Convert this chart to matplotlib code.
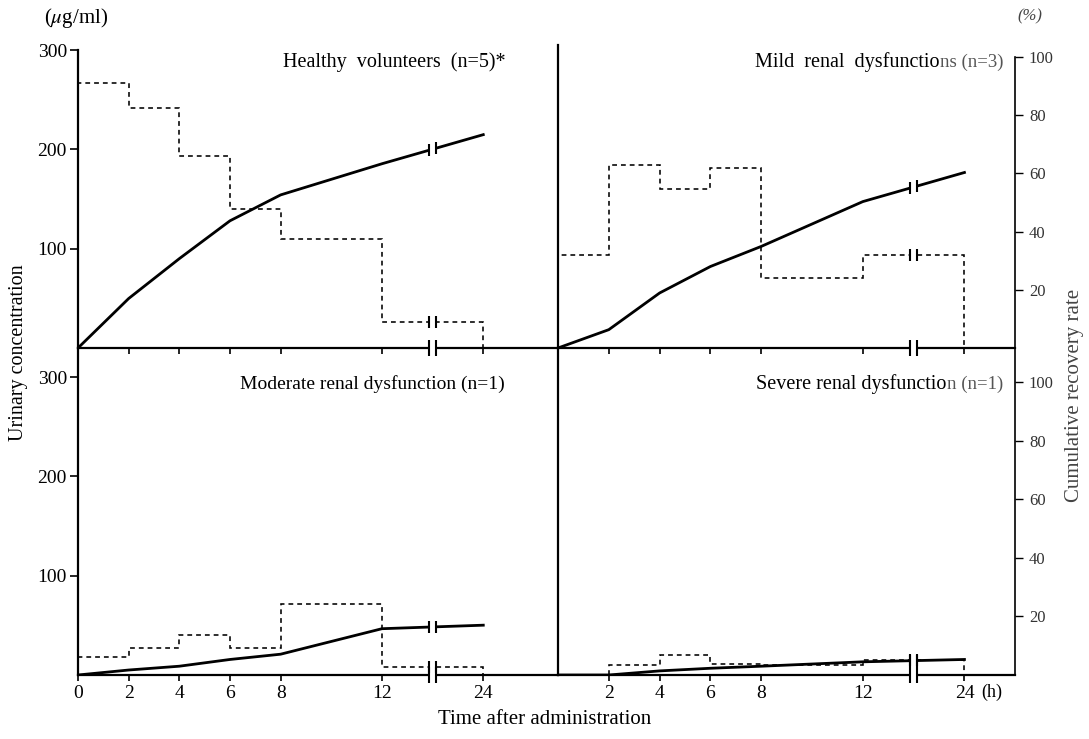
import numpy as np
import matplotlib.pyplot as plt

plt.rcParams['font.family'] = ['Liberation Serif', 'DejaVu Serif']
plt.rcParams['mathtext.fontset'] = 'stix'

# urine collection intervals (h)
edges = [0, 2, 4, 6, 8, 12, 24]
severe_edges = [2, 4, 6, 8, 12, 24]
# sampling times of the cumulative recovery curves (h)
times = [0, 2, 4, 6, 8, 12, 24]

# urinary concentration in each interval (ug/ml)
healthy_conc = [267, 242, 193, 140, 110, 26]
mild_conc = [94, 184, 160, 181, 70, 94]
moderate_conc = [18, 27, 40, 27, 71, 8]
severe_conc = [10, 20, 11, 10, 15]

# cumulative recovery rate (%)
healthy_rec = [0, 17.0, 30.7, 43.7, 52.6, 63.3, 73.3]
mild_rec = [0, 6.3, 18.9, 28.0, 34.9, 50.3, 60.3]
moderate_rec = [0, 1.7, 3.0, 5.3, 7.1, 15.8, 17.0]
severe_rec = [0, 0, 1.4, 2.3, 3.0, 4.5, 5.3]

title_main = ['Healthy  volunteers  (n=5)*', 'Mild  renal  dysfunctio',
              'Moderate renal dysfunction (n=1)', 'Severe renal dysfunctio']
title_tail = ['', 'ns (n=3)', '', 'n (n=1)']

left_ticks = [0, 2, 4, 6, 8, 12, 24]
right_ticks = [2, 4, 6, 8, 12, 24]
conc_ticks = [100, 200, 300]
rate_ticks = [20, 40, 60, 80, 100]

BREAK = 18   # 12-24 h drawn compressed, axis break sits here
GAP = 0.4


def fwd(h):
    h = np.asarray(h, dtype=float)
    return np.where(h <= 12, h, 12 + (h - 12) / 3)


def inv(p):
    p = np.asarray(p, dtype=float)
    return np.where(p <= 12, p, 12 + (p - 12) * 3)


W, H = 1089, 739
fig = plt.figure(figsize=(W / 100, H / 100), dpi=100)


def box(x0, x1, ytop, ybot):
    return [x0 / W, 1 - ybot / H, (x1 - x0) / W, (ybot - ytop) / H]


panels = [
    # rect, edges, conc, rec, conc_top, rate_top, xmax, left column?, bottom row?, title pos
    (box(78, 558, 45, 348), edges, healthy_conc, healthy_rec, 305.1, 104.1, 32.85, True, False, (0.890, 0.944)),
    (box(558, 1015, 45, 348), edges, mild_conc, mild_rec, 305.1, 104.1, 29.97, False, False, (0.974, 0.944)),
    (box(78, 558, 348, 675), edges, moderate_conc, moderate_rec, 329.3, 111.6, 32.85, True, True, (0.890, 0.890)),
    (box(558, 1015, 348, 675), severe_edges, severe_conc, severe_rec, 329.3, 111.6, 29.97, False, True, (0.974, 0.890)),
]

for i, (rect, e, conc, rec, ctop, rtop, xmax, is_left, is_bottom, tpos) in enumerate(panels):
    ax = fig.add_axes(rect)
    ax.patch.set_visible(False)
    ax.set_xscale('function', functions=(fwd, inv))
    tw = ax.twinx()

    # urinary concentration: dashed steps
    ax.stairs(conc, e, baseline=0, color='k', lw=1.15, linestyle=(0, (3, 2.5)))
    ax.axhline(0, color='k', lw=1.6, clip_on=False)
    # cumulative recovery: solid line
    tw.plot(times, rec, color='k', lw=2.0, solid_joinstyle='round')

    ax.set_xlim(0, xmax)
    ax.set_ylim(0, ctop)
    tw.set_ylim(0, rtop)

    # axis break
    tw.axvspan(BREAK - GAP, BREAK + GAP, ymin=-0.01, ymax=0.8, color='white', lw=0,
               zorder=2.2, clip_on=False)
    xb = [BREAK - GAP, BREAK + GAP]
    yb = np.interp(fwd(xb), fwd(times), rec)
    yc = conc[-1] * rtop / ctop
    mk = dict(ls='none', marker='|', color='k', mew=1.5, zorder=3, clip_on=False)
    tw.plot(xb, yb, ms=9, **mk)
    tw.plot(xb, [yc, yc], ms=9, **mk)
    tw.plot(xb, [0, 0], ms=11, **mk)

    for s in ['top', 'right', 'bottom']:
        ax.spines[s].set_visible(False)
    for s in ['top', 'left', 'bottom']:
        tw.spines[s].set_visible(False)
    ax.spines['left'].set_linewidth(1.6)

    ticks = left_ticks if is_left else right_ticks
    ax.set_xticks(ticks)
    ax.set_xticklabels([str(t) for t in ticks] if is_bottom else [])
    ax.tick_params(axis='x', direction='out', length=4, width=1.2, labelsize=14, pad=3)

    if is_left:
        ax.set_yticks(conc_ticks)
        ax.set_yticklabels([str(t) for t in conc_ticks])
        ax.tick_params(axis='y', direction='out', length=6, width=1.2, labelsize=14, pad=2)
        tw.set_yticks([])
        tw.spines['right'].set_visible(False)
        if not is_bottom:
            ax.spines['left'].set_bounds(0, 300)
    else:
        ax.set_yticks([])
        tw.set_yticks(rate_ticks)
        tw.set_yticklabels([str(t) for t in rate_ticks])
        tw.tick_params(axis='y', direction='out', length=6, width=1.0, labelsize=12,
                       labelcolor='#333', pad=4)
        tw.spines['right'].set_linewidth(1.2)
        if not is_bottom:
            tw.spines['right'].set_bounds(0, 100)

    # panel title
    if title_tail[i]:
        t = tw.text(tpos[0], tpos[1], title_tail[i], transform=tw.transAxes,
                    ha='right', va='center', fontsize=13.5, color='#555', zorder=4)
        tw.annotate(title_main[i], xy=(0, 0.5), xycoords=t, ha='right', va='center',
                    fontsize=14.5, zorder=4)
    else:
        fs = 14 if i == 2 else 14.5
        tw.text(tpos[0], tpos[1], title_main[i], transform=tw.transAxes,
                ha='right', va='center', fontsize=fs, zorder=4)

fig.text(76 / W, 1 - 18 / H, r'($\mu$g/ml)', ha='center', va='center', fontsize=15)
fig.text(1030 / W, 1 - 16 / H, '(%)', ha='center', va='center', fontsize=12,
         style='italic', color='#444')
fig.text(19 / W, 1 - 353 / H, 'Urinary concentration', rotation=90,
         ha='center', va='center', fontsize=14.5)
fig.text(1075 / W, 1 - 395 / H, 'Cumulative recovery rate', rotation=90,
         ha='center', va='center', fontsize=15, color='#444')
fig.text(545 / W, 1 - 719 / H, 'Time after administration', ha='center', va='center',
         fontsize=15)
fig.text(992 / W, 1 - 692 / H, '(h)', ha='center', va='center', fontsize=13)

fig.savefig('out.png', dpi=100)
